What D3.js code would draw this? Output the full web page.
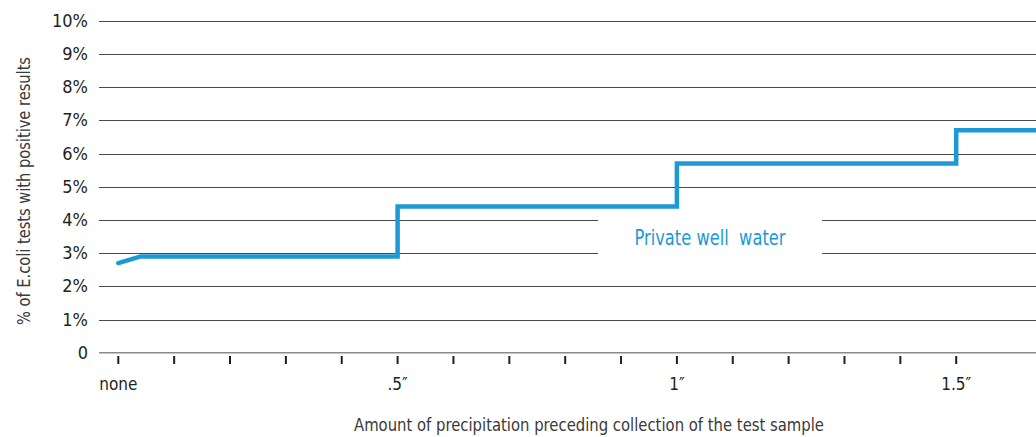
<!DOCTYPE html>
<html><head><meta charset="utf-8">
<script src="https://cdn.jsdelivr.net/npm/d3@7"></script>
<style>
html,body{margin:0;padding:0;background:#fff;}
text{font-family:"DejaVu Sans Condensed","Liberation Sans Narrow",sans-serif;}
</style></head>
<body><svg id="c" width="1036" height="437"></svg>
<script>
const precip = [0, 0.04, 0.5, 1.0, 1.5, 1.7];
const rate = [2.7, 2.9, 4.4, 5.7, 6.7, 6.7];
const yTicks = [0,1,2,3,4,5,6,7,8,9,10];
const xTicks = [0,0.1,0.2,0.3,0.4,0.5,0.6,0.7,0.8,0.9,1.0,1.1,1.2,1.3,1.4,1.5];
const xLabels = [[0,"none"],[0.5,".5\u2033"],[1.0,"1\u2033"],[1.5,"1.5\u2033"]];
const seriesName = "Private well\u00a0 water";

const svg = d3.select("#c");
const x = d3.scaleLinear().domain([0,1.5]).range([118.3,956.2]);
const y = d3.scaleLinear().domain([0,10]).range([352.7,20.7]);
const blue = "#1b9ad7";

// gridlines
svg.append("g").selectAll("line").data(yTicks.filter(d=>d>0)).join("line")
  .attr("x1",99).attr("x2",1036).attr("y1",d=>Math.round(y(d))+0.5).attr("y2",d=>Math.round(y(d))+0.5)
  .attr("stroke","#4a4a4a").attr("stroke-width",1);
// zero line
svg.append("line").attr("x1",99).attr("x2",1036).attr("y1",y(0)).attr("y2",y(0))
  .attr("stroke","#8a8a8a").attr("stroke-width",1.6);

// y labels
svg.append("g").selectAll("text").data(yTicks).join("text")
  .attr("x",88).attr("y",d=>y(d)+6).attr("text-anchor","end")
  .attr("font-size",18).attr("fill","#231f20").text(d=>d===0?"0":d+"%");

// x ticks
svg.append("g").selectAll("line").data(xTicks).join("line")
  .attr("x1",d=>x(d)).attr("x2",d=>x(d)).attr("y1",356).attr("y2",364)
  .attr("stroke","#231f20").attr("stroke-width",2);
svg.append("g").selectAll("text").data(xLabels).join("text")
  .attr("x",d=>x(d[0])).attr("y",390).attr("text-anchor","middle")
  .attr("font-size",17).attr("fill","#231f20").text(d=>d[1]);

// axis titles
svg.append("text").attr("x",589).attr("y",431).attr("text-anchor","middle")
  .attr("font-size",18.5).attr("fill","#3a3a3a")
  .attr("textLength",470).attr("lengthAdjust","spacingAndGlyphs")
  .text("Amount of precipitation preceding collection of the test sample");
svg.append("text").attr("transform","translate(30,191) rotate(-90)").attr("text-anchor","middle")
  .attr("font-size",18.5).attr("fill","#3a3a3a")
  .attr("textLength",268).attr("lengthAdjust","spacingAndGlyphs")
  .text("% of E.coli tests with positive results");

// label background and label
svg.append("rect").attr("x",598).attr("y",y(4)-3).attr("width",224).attr("height",y(3)-y(4)+6).attr("fill","#fff");
svg.append("text").attr("x",710).attr("y",245).attr("text-anchor","middle")
  .attr("font-size",21).attr("fill",blue)
  .attr("textLength",151).attr("lengthAdjust","spacingAndGlyphs").text(seriesName);

// step line
const pts = [];
precip.forEach((p,i)=>{
  if(i>=2) pts.push([p, rate[i-1]]);
  pts.push([p, rate[i]]);
});
svg.append("path").datum(pts)
  .attr("d", d3.line().x(d=>x(d[0])).y(d=>y(d[1])))
  .attr("fill","none").attr("stroke",blue).attr("stroke-width",4.5)
  .attr("stroke-linecap","round").attr("stroke-linejoin","miter");
</script></body></html>
